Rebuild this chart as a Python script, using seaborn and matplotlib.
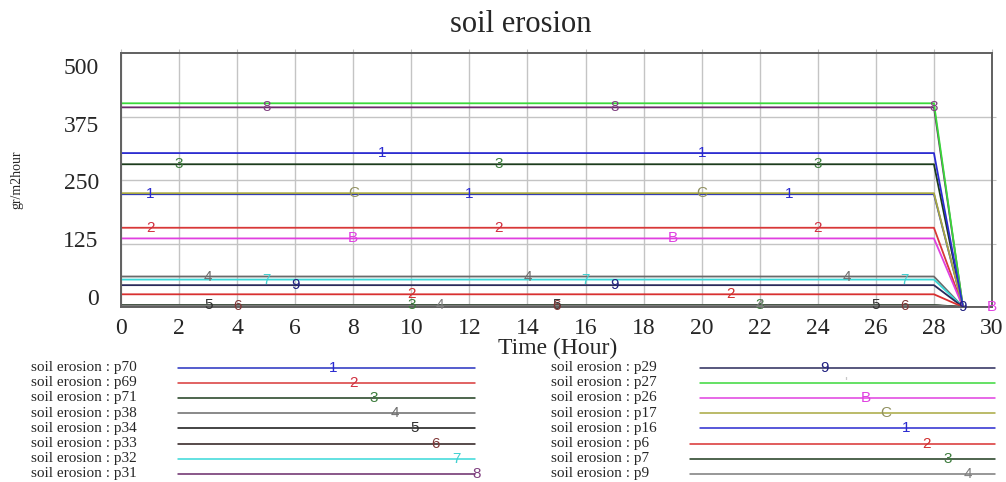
import matplotlib
matplotlib.use("Agg")
import matplotlib.pyplot as plt
import seaborn as sns
import pandas as pd
import numpy as np

# ---------------- data ----------------
hours = [0, 28, 29, 30]
series_names = ["p70", "p69", "p71", "p38", "p34", "p33", "p32", "p31",
                "p29", "p27", "p26", "p17", "p16", "p6", "p7", "p9"]
series_levels = [222, 156, 281, 60, 3, 2, 54, 393,
                 43, 401, 135, 224, 303, 25, 4, 3]
series_symbols = ["1", "2", "3", "4", "5", "6", "7", "8",
                  "9", "", "B", "C", "1", "2", "3", "4"]
symbol_hours = [[1, 12, 23], [1, 13, 24], [2, 13, 24], [3, 14, 25],
                [3, 15, 26], [4, 15, 27], [5, 16, 27], [5, 17, 28],
                [6, 17, 29], [7, 18, 29], [8, 19, 30], [8, 20],
                [9, 20], [10, 21], [10, 22], [11, 22]]
x_ticks = list(range(0, 31, 2))
y_tick_labels = [0, 125, 250, 375, 500]

# ---------------- styles ----------------
line_colors = ["#2630c0", "#d83838", "#1c3c1c", "#6a6a6a", "#111111", "#2a1a1a",
               "#38d8d8", "#6a2a6a", "#2a2a5a", "#3ad83a", "#e040e0", "#a8a840",
               "#2a2ad0", "#d83030", "#1e3a1e", "#7a7a7a"]
symbol_colors = ["#2a2ad0", "#d03040", "#3c7c3c", "#707070", "#303030", "#803838",
                 "#40d0d0", "#804080", "#202080", "#c8c8c8", "#e040e0", "#909060",
                 "#2a2ad0", "#d03030", "#3c7c3c", "#808080"]

sns.set_style("white")
plt.rcParams["font.family"] = ["Liberation Serif", "DejaVu Serif"]

# long table
rows = []
for name, level in zip(series_names, series_levels):
    vals = [level, level, 0, 0]
    for h, v in zip(hours, vals):
        rows.append({"Time": h, "value": v, "series": name})
df = pd.DataFrame(rows)

fig = plt.figure(figsize=(10.06, 4.82), dpi=100)
W, H = 1006, 482

# legend canvas in pixel coordinates
lax = fig.add_axes([0, 0, 1, 1], zorder=0)
lax.set_xlim(0, W)
lax.set_ylim(H, 0)
lax.axis("off")

ax = fig.add_axes([121 / W, 1 - 307 / H, 871 / W, 254 / H], zorder=2)

palette = dict(zip(series_names, line_colors))
sns.lineplot(data=df, x="Time", y="value", hue="series", palette=palette,
             hue_order=series_names, linewidth=1.3, legend=False, ax=ax,
             estimator=None, sort=False)

# symbols on lines
for i, name in enumerate(series_names):
    sym = series_symbols[i]
    if not sym:
        continue
    for h in symbol_hours[i]:
        yv = series_levels[i] if h <= 28 else 0
        ax.text(h, yv, sym, ha="center", va="center", fontsize=11,
                family=["Liberation Sans", "DejaVu Sans"],
                color=symbol_colors[i], clip_on=False, zorder=5)

ax.set_xlim(0, 30)
ax.set_ylim(0, 500)
ax.set_xticks(x_ticks)
ax.set_xticklabels([str(t) for t in x_ticks], fontsize=17)
ax.set_yticks([125, 250, 375])
ax.grid(True, color="#c4c4c4", linewidth=1.0)
ax.set_xlabel("")
ax.set_ylabel("")
ax.tick_params(axis="x", bottom=False, top=True, labelbottom=True,
               length=3, color="#c0c0c0", pad=5)
ax.tick_params(axis="y", left=False, right=True, labelleft=False,
               length=3, color="#c0c0c0")
for sp in ax.spines.values():
    sp.set_visible(True)
    sp.set_color("#606060")
    sp.set_linewidth(1.4)

# tick labels of the value axis, as placed in the reference
def fwd(b):
    return (np.asarray(b) - 20.3) / 0.908

def inv(v):
    return np.asarray(v) * 0.908 + 20.3

sec = ax.secondary_yaxis("left", functions=(fwd, inv))
sec.set_yticks(y_tick_labels)
sec.set_yticklabels([str(v) for v in y_tick_labels], fontsize=17)
sec.tick_params(length=0, pad=16)
sec.spines["left"].set_visible(False)

# titles
fig.text(521 / W, 1 - 25 / H, "soil erosion", ha="center", va="center", fontsize=22)
fig.text(558 / W, 1 - 348 / H, "Time (Hour)", ha="center", va="center", fontsize=17)
fig.text(17 / W, 1 - 180 / H, "gr/m2hour", ha="center", va="center",
         rotation=90, fontsize=10)

# legend
row_y0, row_dy = 367.5, 15.2
for i, name in enumerate(series_names):
    col = i // 8
    r = i % 8
    y = row_y0 + r * row_dy
    if col == 0:
        tx, x0, x1 = 31, 178, 475
        mx = 333 + r * 20.5
    else:
        tx = 551
        x0 = 700 if len(name) == 3 else 690
        x1 = 995
        mx = 825 + r * 20.4
    lax.text(tx, y, "soil erosion : " + name, ha="left", va="center", fontsize=11)
    lax.plot([x0, x1], [y, y], color=line_colors[i], linewidth=1.1)
    sym = series_symbols[i] if series_symbols[i] else "'"
    lax.text(mx, y, sym, ha="center", va="center", fontsize=11,
             family=["Liberation Sans", "DejaVu Sans"], color=symbol_colors[i])

fig.savefig("out.png", dpi=100)
